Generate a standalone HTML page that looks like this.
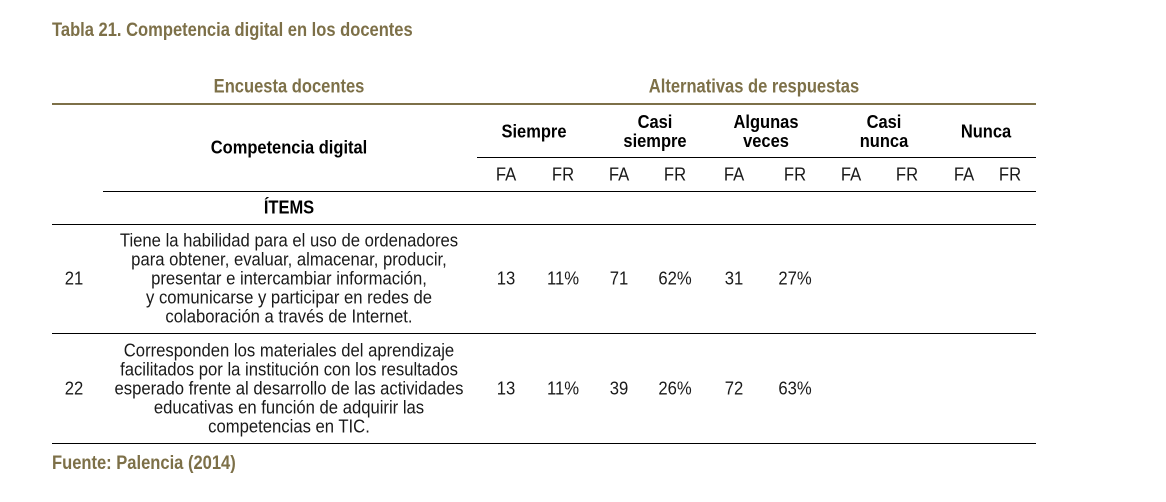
<!DOCTYPE html>
<html><head><meta charset="utf-8">
<style>
html,body{margin:0;padding:0;width:1166px;height:502px;background:#fff;overflow:hidden;position:relative}
.t{position:absolute;transform:translate(-50%,-50%) scaleX(0.925);white-space:nowrap;font-family:"Liberation Sans",sans-serif;font-size:18px;color:#1a1a1a;line-height:19px;text-align:center}
.l{position:absolute;transform:translate(0,-50%) scaleX(0.87);transform-origin:left center;white-space:nowrap;font-family:"Liberation Sans",sans-serif;font-weight:bold;font-size:19px;color:#7d7048}
.t.b{font-weight:bold;color:#000;transform:translate(-50%,-50%) scaleX(0.915)}
.t.br{font-weight:bold;color:#7d7048;font-size:19px;transform:translate(-50%,-50%) scaleX(0.87)}
.hl{position:absolute;height:1px;background:#000}
</style></head><body>
<div class="l" style="left:52px;top:31px">Tabla 21. Competencia digital en los docentes</div>
<div class="t br" style="left:289px;top:87px">Encuesta docentes</div>
<div class="t br" style="left:754px;top:87px">Alternativas de respuestas</div>
<div class="hl" style="left:52px;top:103px;width:984px;height:2px;background:#7d7048"></div>
<div class="t b" style="left:289px;top:148px">Competencia digital</div>
<div class="t b" style="left:534px;top:132px">Siempre</div>
<div class="t b" style="left:655px;top:132px">Casi<br>siempre</div>
<div class="t b" style="left:766px;top:132px">Algunas<br>veces</div>
<div class="t b" style="left:884px;top:132px">Casi<br>nunca</div>
<div class="t b" style="left:986px;top:132px">Nunca</div>
<div class="hl" style="left:477px;top:157px;width:559px"></div>
<div class="t" style="left:506px;top:175px">FA</div>
<div class="t" style="left:563px;top:175px">FR</div>
<div class="t" style="left:619px;top:175px">FA</div>
<div class="t" style="left:675px;top:175px">FR</div>
<div class="t" style="left:734px;top:175px">FA</div>
<div class="t" style="left:795px;top:175px">FR</div>
<div class="t" style="left:851px;top:175px">FA</div>
<div class="t" style="left:907px;top:175px">FR</div>
<div class="t" style="left:964px;top:175px">FA</div>
<div class="t" style="left:1010px;top:175px">FR</div>
<div class="hl" style="left:103px;top:191px;width:933px"></div>
<div class="t b" style="left:289px;top:208px">ÍTEMS</div>
<div class="hl" style="left:52px;top:224px;width:984px"></div>

<div class="t" style="left:74px;top:279px">21</div>
<div class="t" style="left:289px;top:279px">Tiene la habilidad para el uso de ordenadores<br>para obtener, evaluar, almacenar, producir,<br>presentar e intercambiar información,<br>y comunicarse y participar en redes de<br>colaboración a través de Internet.</div>
<div class="t" style="left:506px;top:279px">13</div>
<div class="t" style="left:563px;top:279px">11%</div>
<div class="t" style="left:619px;top:279px">71</div>
<div class="t" style="left:675px;top:279px">62%</div>
<div class="t" style="left:734px;top:279px">31</div>
<div class="t" style="left:795px;top:279px">27%</div>
<div class="hl" style="left:52px;top:333px;width:984px"></div>

<div class="t" style="left:74px;top:389px">22</div>
<div class="t" style="left:289px;top:389px">Corresponden los materiales del aprendizaje<br>facilitados por la institución con los resultados<br>esperado frente al desarrollo de las actividades<br>educativas en función de adquirir las<br>competencias en TIC.</div>
<div class="t" style="left:506px;top:389px">13</div>
<div class="t" style="left:563px;top:389px">11%</div>
<div class="t" style="left:619px;top:389px">39</div>
<div class="t" style="left:675px;top:389px">26%</div>
<div class="t" style="left:734px;top:389px">72</div>
<div class="t" style="left:795px;top:389px">63%</div>
<div class="hl" style="left:52px;top:443px;width:984px"></div>

<div class="l" style="left:52px;top:464px">Fuente: Palencia (2014)</div>
</body></html>
